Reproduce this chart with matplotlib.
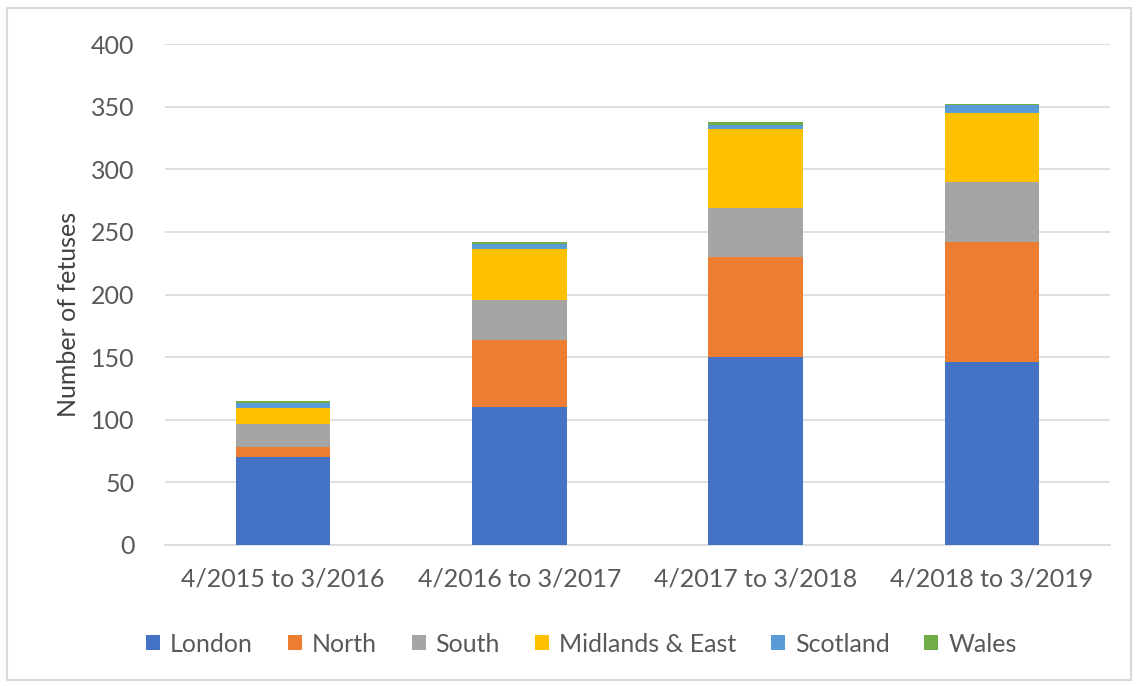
import matplotlib.pyplot as plt
import numpy as np
from matplotlib.patches import Rectangle

plt.rcParams['font.family'] = ['Lato', 'DejaVu Sans']

periods = ['4/2015 to 3/2016', '4/2016 to 3/2017', '4/2017 to 3/2018', '4/2018 to 3/2019']
london = [70, 110, 150, 146]
north = [8, 54, 80, 96]
south = [19, 32, 39, 48]
midlands = [12, 40, 63, 55]
scotland = [4, 4, 3, 6]
wales = [2, 2, 3, 1]

series = [('London', london, '#4472c4'),
          ('North', north, '#ed7d31'),
          ('South', south, '#a5a5a5'),
          ('Midlands & East', midlands, '#ffc000'),
          ('Scotland', scotland, '#5b9bd5'),
          ('Wales', wales, '#70ad47')]

fig = plt.figure(figsize=(11.38, 6.86), dpi=100)
ax = fig.add_axes([165 / 1138, 1 - 545 / 686, 945 / 1138, 501 / 686])

x = np.arange(len(periods))
bottom = np.zeros(len(periods))
for name, vals, col in series:
    ax.bar(x, vals, 0.4, bottom=bottom, color=col, label=name, zorder=3)
    bottom += np.array(vals)

ax.set_xlim(-0.5, 3.5)
ax.set_ylim(0, 400)
ax.set_yticks(range(0, 401, 50))
ax.set_xticks(x)
ax.set_xticklabels(periods)
ax.grid(axis='y', color='#d9d9d9', linewidth=1.2, zorder=0)
for s in ['top', 'right', 'left']:
    ax.spines[s].set_visible(False)
ax.spines['bottom'].set_color('#d9d9d9')
ax.spines['bottom'].set_linewidth(1.2)
ax.tick_params(length=0, labelsize=18, colors='#595959')
ax.tick_params(axis='y', pad=22)
ax.tick_params(axis='x', pad=16)
ax.set_ylabel('Number of fetuses', fontsize=18, color='#404040')
ax.yaxis.set_label_coords(-0.09, 0.46)

fig.legend(loc='center', bbox_to_anchor=(0.511, 1 - 644 / 686), ncol=6, frameon=False,
           fontsize=18, handlelength=0.55, handleheight=0.55, handletextpad=0.4,
           columnspacing=1.4, labelcolor='#595959')

fig.patches.append(Rectangle((7 / 1138, 6 / 686), 1124 / 1138, 672 / 686,
                             transform=fig.transFigure, fill=False,
                             edgecolor='#d9d9d9', linewidth=1.5))

fig.savefig('out.png', dpi=100)
